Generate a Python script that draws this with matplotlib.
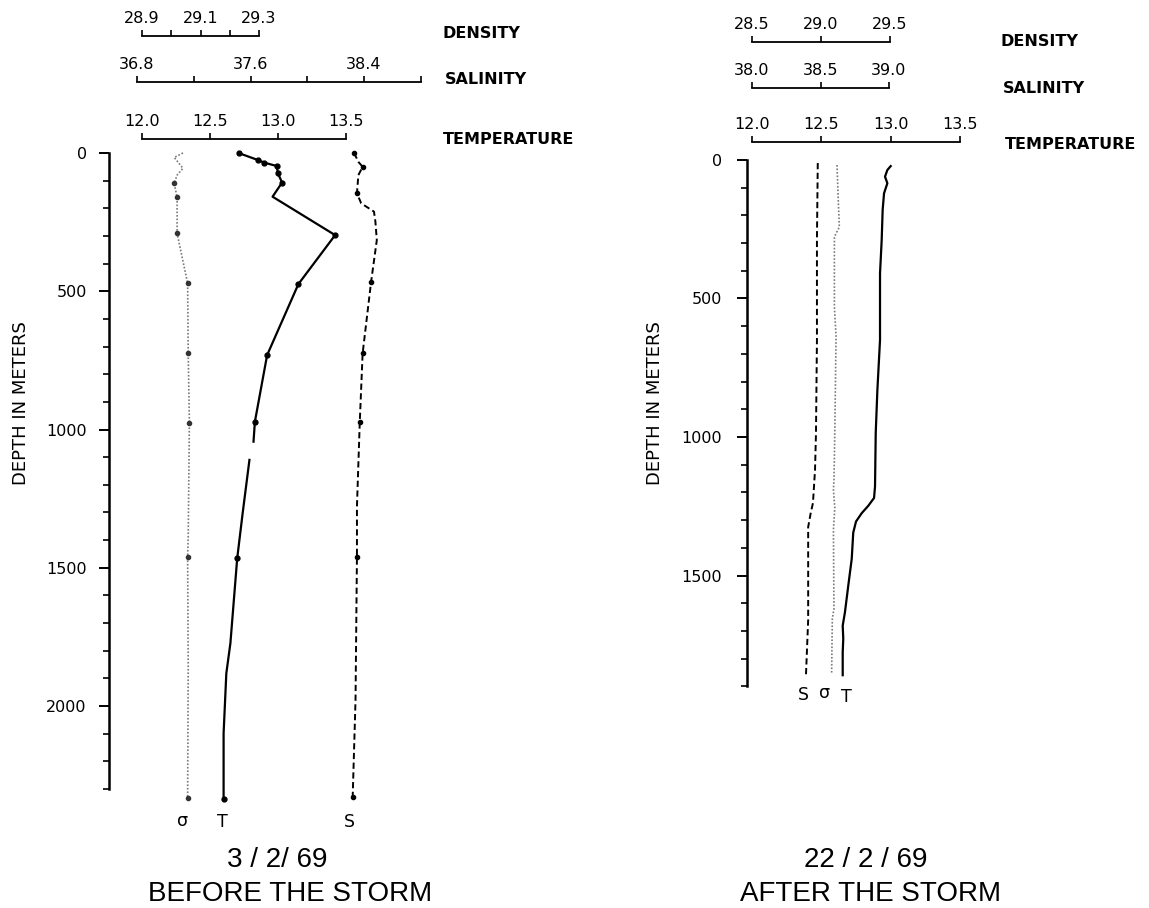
import matplotlib
matplotlib.use('Agg')
import matplotlib.pyplot as plt
import numpy as np

plt.rcParams['font.family'] = ['DejaVu Sans']

W, H = 1149, 908

# ---- 3/2/69 : before the storm ----
before_t_depth = [0, 25, 35, 47, 74, 107, 158, 297, 474, 731, 972, 1044, 1075, 1110, 1303, 1466, 1773, 1882, 2099, 2336]
before_t = [12.71, 12.85, 12.90, 12.99, 13.00, 13.03, 12.96, 13.42, 13.15, 12.92, 12.83, 12.82, np.nan, 12.79, 12.74, 12.70, 12.65, 12.62, 12.60, 12.60]
before_t_dots = [0, 25, 35, 47, 74, 107, 297, 474, 731, 972, 1466, 2336]

before_s_depth = [0, 32, 50, 80, 146, 182, 212, 248, 315, 465, 725, 972, 1279, 1460, 1978, 2328]
before_s = [38.33, 38.36, 38.39, 38.36, 38.35, 38.38, 38.47, 38.48, 38.49, 38.45, 38.39, 38.37, 38.35, 38.35, 38.34, 38.32]
before_s_dots = [0, 50, 146, 465, 725, 972, 1460, 2328]

before_d_depth = [0, 16, 55, 80, 110, 160, 291, 471, 725, 975, 1388, 1460, 1858, 2334]
before_d = [29.04, 29.01, 29.04, 29.02, 29.01, 29.02, 29.02, 29.056, 29.058, 29.062, 29.058, 29.056, 29.058, 29.056]
before_d_dots = [110, 160, 291, 471, 725, 975, 1460, 2334]

# ---- 22/2/69 : after the storm ----
after_t_depth = [22, 36, 60, 84, 120, 180, 289, 409, 650, 830, 986, 1178, 1220, 1248, 1275, 1305, 1345, 1440, 1537, 1633, 1681, 1729, 1777, 1860]
after_t = [13.00, 12.976, 12.959, 12.976, 12.952, 12.942, 12.935, 12.923, 12.923, 12.904, 12.892, 12.887, 12.88, 12.839, 12.791, 12.75, 12.73, 12.719, 12.694, 12.67, 12.654, 12.658, 12.654, 12.654]

after_s_depth = [11, 289, 650, 986, 1119, 1238, 1276, 1325, 1480, 1660, 1859]
after_s = [38.48, 38.474, 38.474, 38.467, 38.46, 38.445, 38.428, 38.41, 38.41, 38.41, 38.394]

after_d_depth = [18, 144, 242, 277, 530, 638, 986, 1155, 1190, 1256, 1334, 1620, 1656, 1855]
after_d = [29.116, 29.125, 29.133, 29.097, 29.097, 29.109, 29.10, 29.094, 29.09, 29.10, 29.09, 29.094, 29.082, 29.077]

fig = plt.figure(figsize=(W / 100, H / 100), dpi=100)


def var_axes(left, right, top, bottom, depth_lim, lo, hi, x0, ppu, line_y, major, minor):
    ax = fig.add_axes([left / W, 1 - bottom / H, (right - left) / W, (bottom - top) / H])
    ax.set_xlim(lo - (x0 - left) / ppu, lo + (right - x0) / ppu)
    ax.set_ylim(depth_lim, 0)
    ax.patch.set_visible(False)
    for s in ['left', 'right', 'bottom']:
        ax.spines[s].set_visible(False)
    ax.spines['top'].set_position(('outward', (top - line_y) * 0.72))
    ax.spines['top'].set_bounds(lo, hi)
    ax.spines['top'].set_linewidth(1.3)
    ax.xaxis.tick_top()
    ax.set_xticks(major)
    ax.set_xticklabels(['%.1f' % v for v in major])
    ax.set_xticks(minor, minor=True)
    ax.tick_params(axis='x', which='both', direction='out', length=4, width=1.2,
                   pad=3, labelsize=11.5)
    ax.set_yticks([])
    return ax


def depth_axis(ax, end, pad):
    ax.spines['left'].set_visible(True)
    ax.spines['left'].set_bounds(0, end)
    ax.spines['left'].set_linewidth(1.8)
    ax.yaxis.tick_left()
    ax.set_yticks(np.arange(0, end + 1, 500))
    ax.set_yticks(np.arange(0, end + 1, 100), minor=True)
    ax.tick_params(axis='y', which='major', length=7, width=1.4, pad=pad, labelsize=11.5)
    ax.tick_params(axis='y', which='minor', length=4, width=1.2)


def curve_label(ax, txt, x, y, dx, dy):
    ax.annotate(txt, xy=(x, y), xytext=(dx, dy), textcoords='offset pixels',
                ha='center', va='center', fontsize=12.5, annotation_clip=False)


t_style = dict(color='black', lw=1.6, ls='-', clip_on=False)
s_style = dict(color='black', lw=1.4, ls=(0, (3.2, 1.8)), clip_on=False)
d_style = dict(color='#7a7a7a', lw=1.2, ls=(0, (1, 1.1)), clip_on=False)

# ---------------- left panel ----------------
L, R, TOP, PPM, LIM = 109, 430, 153, 0.2765, 2400
BOT = TOP + LIM * PPM
axT = var_axes(L, R, TOP, BOT, LIM, 12.0, 13.5, 142, 136, 139, [12.0, 12.5, 13.0, 13.5], [])
axS = var_axes(L, R, TOP, BOT, LIM, 36.8, 38.8, 137, 141.9, 82, [36.8, 37.6, 38.4], [37.2, 38.0, 38.8])
axD = var_axes(L, R, TOP, BOT, LIM, 28.9, 29.3, 142, 292.5, 36, [28.9, 29.1, 29.3], [29.0, 29.2])
depth_axis(axT, 2300, 9)

axT.plot(before_t, before_t_depth, **t_style)
axS.plot(before_s, before_s_depth, **s_style)
axD.plot(before_d, before_d_depth, **d_style)
tdots = [before_t[before_t_depth.index(d)] for d in before_t_dots]
sdots = [before_s[before_s_depth.index(d)] for d in before_s_dots]
ddots = [before_d[before_d_depth.index(d)] for d in before_d_dots]
axT.plot(tdots, before_t_dots, 'o', color='black', ms=3.5, clip_on=False)
axS.plot(sdots, before_s_dots, 'o', color='black', ms=3.0, clip_on=False)
axD.plot(ddots, before_d_dots, 'o', color='#333333', ms=3.0, clip_on=False)

curve_label(axD, 'σ', before_d[-1], before_d_depth[-1], -5, -23)
curve_label(axT, 'T', before_t[-1], before_t_depth[-1], -1, -23)
curve_label(axS, 'S', before_s[-1], before_s_depth[-1], -3, -25)

# ---------------- right panel ----------------
L2, R2, TOP2, PPM2, LIM2 = 747, 1100, 160, 0.277, 1950
BOT2 = TOP2 + LIM2 * PPM2
bxT = var_axes(L2, R2, TOP2, BOT2, LIM2, 12.0, 13.5, 752, 138.7, 142, [12.0, 12.5, 13.0, 13.5], [])
bxS = var_axes(L2, R2, TOP2, BOT2, LIM2, 38.0, 39.0, 752, 137, 88, [38.0, 38.5, 39.0], [])
bxD = var_axes(L2, R2, TOP2, BOT2, LIM2, 28.5, 29.5, 752, 138, 42, [28.5, 29.0, 29.5], [])
depth_axis(bxT, 1900, 11)

bxT.plot(after_t, after_t_depth, **t_style)
bxS.plot(after_s, after_s_depth, **s_style)
bxD.plot(after_d, after_d_depth, **d_style)

curve_label(bxS, 'S', after_s[-1], after_s_depth[-1], -3, -20)
curve_label(bxD, 'σ', after_d[-1], after_d_depth[-1], -7, -19)
curve_label(bxT, 'T', after_t[-1], after_t_depth[-1], 4, -22)

# ---------------- texts ----------------
def ftext(x, y, s, **kw):
    fig.text(x / W, 1 - y / H, s, **kw)

names = dict(fontsize=11.5, fontweight='bold', ha='left', va='baseline')
ftext(443, 38, 'DENSITY', **names)
ftext(445, 84, 'SALINITY', **names)
ftext(443, 144, 'TEMPERATURE', **names)
ftext(1000, 46, 'DENSITY', **names)
ftext(1003, 93, 'SALINITY', **names)
ftext(1005, 149, 'TEMPERATURE', **names)

ftext(21, 403, 'DEPTH IN METERS', rotation=90, fontsize=13, ha='center', va='center')
ftext(655, 403, 'DEPTH IN METERS', rotation=90, fontsize=13, ha='center', va='center')

cap = dict(fontsize=20, family='Liberation Sans', ha='center', va='baseline')
ftext(277, 867, '3 / 2/ 69', **cap)
ftext(290, 901, 'BEFORE THE STORM', **cap)
ftext(866, 867, '22 / 2 / 69', **cap)
ftext(870, 901, 'AFTER THE STORM', **cap)

fig.savefig('out.png', dpi=100)
